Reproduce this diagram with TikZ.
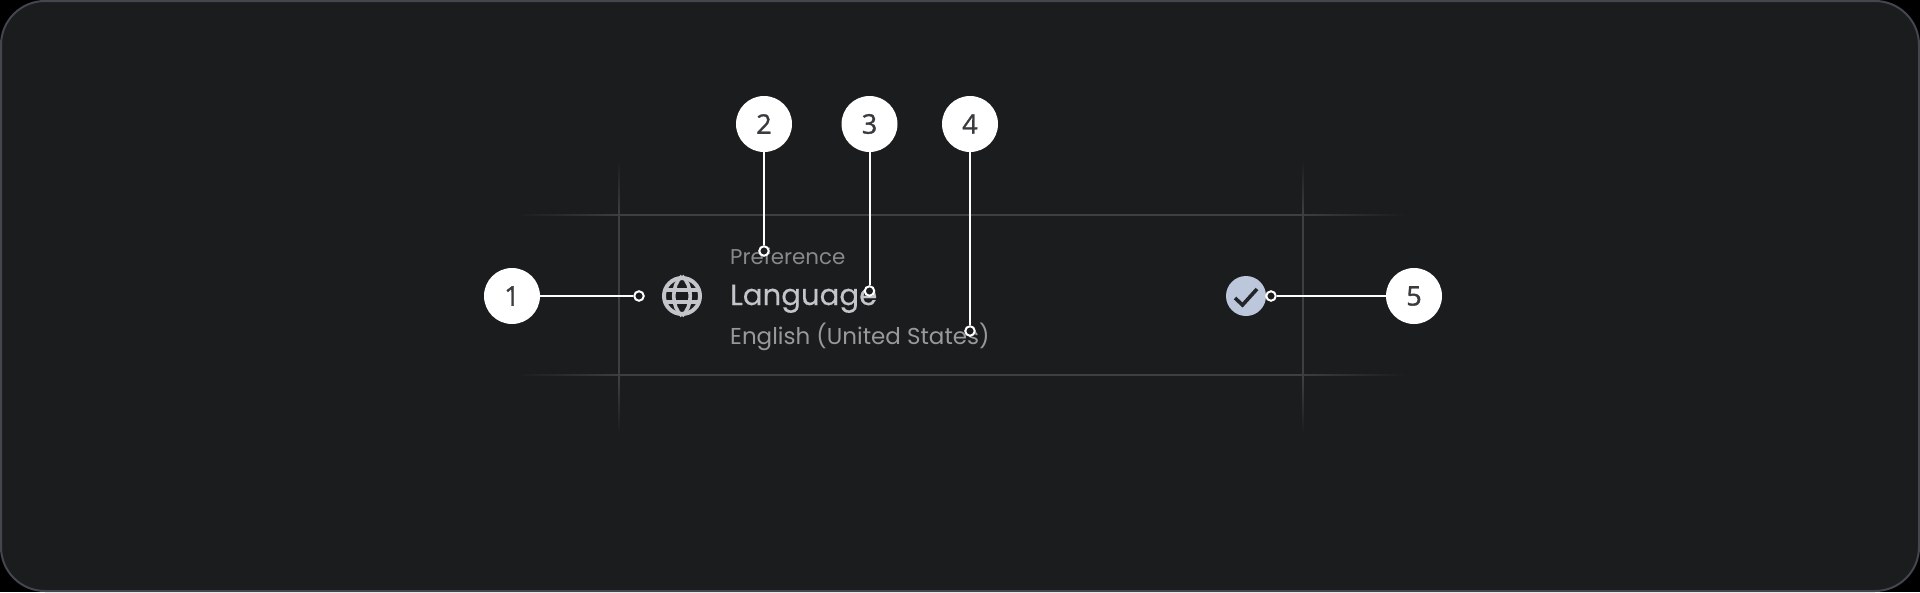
\documentclass[tikz,border=0pt]{standalone}
\usepackage{fontspec}
\setmainfont{Poppins}
\newfontfamily\numfont{Open Sans}[FakeBold=1.2]
\newfontfamily\langfont{Poppins}[FakeBold=0.35]
\usetikzlibrary{positioning}
\definecolor{panelbg}{HTML}{1B1C1E}
\definecolor{paneledge}{HTML}{44464E}
\definecolor{guidecol}{HTML}{3E3F41}
\definecolor{iconcol}{HTML}{C4C5CB}
\definecolor{checkbg}{HTML}{BDC7DC}
\definecolor{checkmk}{HTML}{23252B}
\definecolor{numcol}{HTML}{3A3B3E}
\pgfdeclarehorizontalshading{guideh}{100bp}{color(0bp)=(panelbg); color(25bp)=(panelbg); color(31bp)=(guidecol); color(69bp)=(guidecol); color(75bp)=(panelbg); color(100bp)=(panelbg)}
\pgfdeclareverticalshading{guidev}{100bp}{color(0bp)=(panelbg); color(25bp)=(panelbg); color(35bp)=(guidecol); color(65bp)=(guidecol); color(75bp)=(panelbg); color(100bp)=(panelbg)}
\begin{document}
\begin{tikzpicture}[
  x=1pt, y=-1pt,
  badge/.style={circle, fill=white, minimum size=56pt, inner sep=0pt, text=numcol, font=\fontsize{27}{27}\selectfont\numfont},
  tipdot/.style={circle, draw=white, fill=panelbg, line width=2pt, minimum size=9.5pt, inner sep=0pt},
  leader/.style={draw=white, line width=2pt},
  rowtext/.style={anchor=base west, inner sep=0pt}
]
  \useasboundingbox (0,0) rectangle (1920,592);
  \fill[black] (0,0) rectangle (1920,592);
  \draw[fill=panelbg, draw=paneledge, line width=2pt, rounded corners=44pt] (1,1) rectangle (1919,591);

  \shade[shading=guideh] (516,214.2) rectangle (1406,215.8);
  \shade[shading=guideh] (516,374) rectangle (1406,375.6);
  \shade[shading=guidev] (618,160) rectangle (619.6,433);
  \shade[shading=guidev] (1302,160) rectangle (1303.6,433);

  \node[circle, draw=iconcol, line width=4pt, minimum size=36pt, inner sep=0pt] (globe) at (682,296) {};
  \draw[iconcol, line width=3.6pt] (globe.north) .. controls (671,285) and (671,307) .. (globe.south)
    (globe.north) .. controls (693,285) and (693,307) .. (globe.south);
  \draw[iconcol, line width=3.6pt] (664,290) -- (700,290) (664,302) -- (700,302);

  \node[circle, fill=checkbg, minimum size=40pt, inner sep=0pt] (check) at (1246,296) {};
  \draw[checkmk, line width=3.6pt] (1235,298) -- (1242.5,305) -- (1257,289);

  \node[rowtext, text=white!48!panelbg, font=\fontsize{21.4}{21.4}\selectfont] (pref) at (730,264) {Preference};
  \node[rowtext, text=iconcol, font=\fontsize{29.2}{29.2}\selectfont\langfont] (lang) at (730,305) {Language};
  \node[rowtext, text=white!55!panelbg, font=\fontsize{23}{23}\selectfont] (engl) at (730,344) {English (United States)};

  \node[tipdot] (dot1) at (639,296) {};
  \node[tipdot] (dot2) at (764,251) {};
  \node[tipdot] (dot3) at (869.5,291) {};
  \node[tipdot] (dot4) at (970,331) {};
  \node[tipdot] (dot5) at (1271,296) {};

  \node[badge] (num1) at (512,296) {1};
  \node[badge] (num2) at (764,124) {2};
  \node[badge] (num3) at (869.5,124) {3};
  \node[badge] (num4) at (970,124) {4};
  \node[badge] (num5) at (1414,296) {5};

  \draw[leader] (num1) -- (dot1);
  \draw[leader] (num2) -- (dot2);
  \draw[leader] (num3) -- (dot3);
  \draw[leader] (num4) -- (dot4);
  \draw[leader] (num5) -- (dot5);
\end{tikzpicture}
\end{document}
